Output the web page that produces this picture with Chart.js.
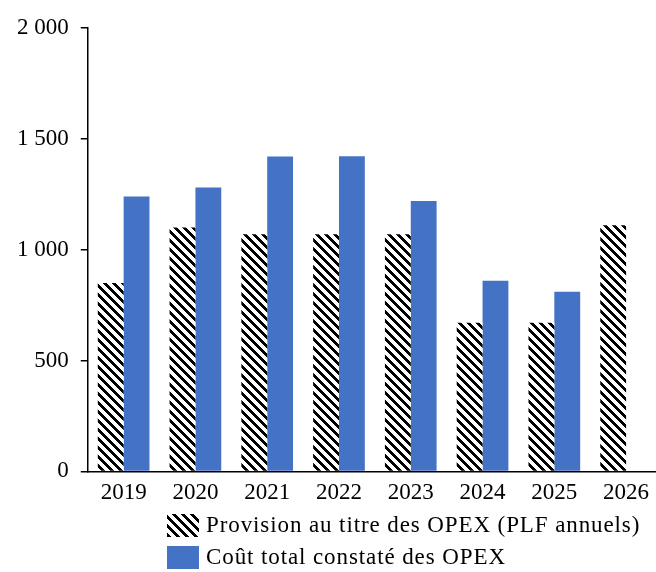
<!DOCTYPE html>
<html lang="fr">

<head>
    <meta charset="UTF-8">
    <title>OPEX : provision et coût constaté</title>
    <script src="https://cdn.jsdelivr.net/npm/chart.js"></script>
    <style>
        body {
            margin: 0;
            background: #fff;
            overflow: hidden;
        }

        #wrap {
            position: relative;
            width: 656px;
            height: 572px;
            overflow: hidden;
        }

        #legend {
            position: absolute;
            left: 167px;
            top: 509px;
            font-family: "Liberation Serif", serif;
            font-size: 23px;
            letter-spacing: 0.9px;
            color: #000;
        }

        .item {
            display: flex;
            align-items: center;
            height: 32px;
        }

        .swatch {
            width: 32px;
            height: 23px;
            margin-right: 7px;
        }

        .hatch {
            background: repeating-linear-gradient(45deg, #000 0 3px, #fff 3px 6.4px);
        }

        .blue {
            background: #4472c4;
        }
    </style>
</head>

<body>
    <div id="wrap">
        <!-- le graphique d'origine est rogné à droite : canevas un peu plus large que la fenêtre -->
        <canvas id="opexChart" width="662" height="572"></canvas>
        <div id="legend"></div>
    </div>

    <script>
        const years = ['2019', '2020', '2021', '2022', '2023', '2024', '2025', '2026'];
        const provision = [850, 1100, 1070, 1070, 1070, 670, 670, 1110];
        const coutTotal = [1240, 1280, 1420, 1422, 1220, 860, 810, null];
        const seriesNames = ['Provision au titre des OPEX (PLF annuels)', 'Coût total constaté des OPEX'];

        // motif hachuré (diagonales \\\)
        function hatchPattern() {
            const size = 9;
            const c = document.createElement('canvas');
            c.width = size;
            c.height = size;
            const g = c.getContext('2d');
            const img = g.createImageData(size, size);
            for (let y = 0; y < size; y++) {
                for (let x = 0; x < size; x++) {
                    const k = ((x - y) % size + size) % size;
                    const v = k < 4 ? 0 : 255;
                    const i = (y * size + x) * 4;
                    img.data[i] = v;
                    img.data[i + 1] = v;
                    img.data[i + 2] = v;
                    img.data[i + 3] = 255;
                }
            }
            g.putImageData(img, 0, 0);
            return g.createPattern(c, 'repeat');
        }

        const ctx = document.getElementById('opexChart').getContext('2d');
        const font = { family: '"Liberation Serif", serif', size: 23 };

        const chart = new Chart(ctx, {
            type: 'bar',
            data: {
                labels: years,
                datasets: [{
                    label: seriesNames[0],
                    data: provision,
                    backgroundColor: hatchPattern(),
                    borderWidth: 0
                }, {
                    label: seriesNames[1],
                    data: coutTotal,
                    backgroundColor: '#4472c4',
                    borderWidth: 0
                }]
            },
            options: {
                responsive: false,
                animation: false,
                categoryPercentage: 0.72,
                barPercentage: 1,
                layout: {
                    padding: { top: 28, left: 5, right: 0, bottom: 57 }
                },
                scales: {
                    x: {
                        grid: { display: false, drawTicks: false },
                        border: { color: '#000', width: 1.5 },
                        ticks: { color: '#000', font: font, padding: 8, maxRotation: 0 }
                    },
                    y: {
                        min: 0,
                        max: 2000,
                        grid: { display: true, drawOnChartArea: false, drawTicks: true, tickLength: 7, color: '#000', lineWidth: 1.5 },
                        border: { color: '#000', width: 1.5 },
                        ticks: {
                            stepSize: 500,
                            color: '#000',
                            font: font,
                            padding: 12,
                            callback: v => v >= 1000 ? Math.floor(v / 1000) + '\u00a0' + String(v % 1000).padStart(3, '0') : String(v)
                        }
                    }
                },
                plugins: {
                    legend: { display: false },
                    tooltip: { enabled: false }
                }
            }
        });

        const legend = document.getElementById('legend');
        ['hatch', 'blue'].forEach((cls, i) => {
            const row = document.createElement('div');
            row.className = 'item';
            const sw = document.createElement('span');
            sw.className = 'swatch ' + cls;
            const txt = document.createElement('span');
            txt.textContent = seriesNames[i];
            row.appendChild(sw);
            row.appendChild(txt);
            legend.appendChild(row);
        });
    </script>
</body>

</html>
